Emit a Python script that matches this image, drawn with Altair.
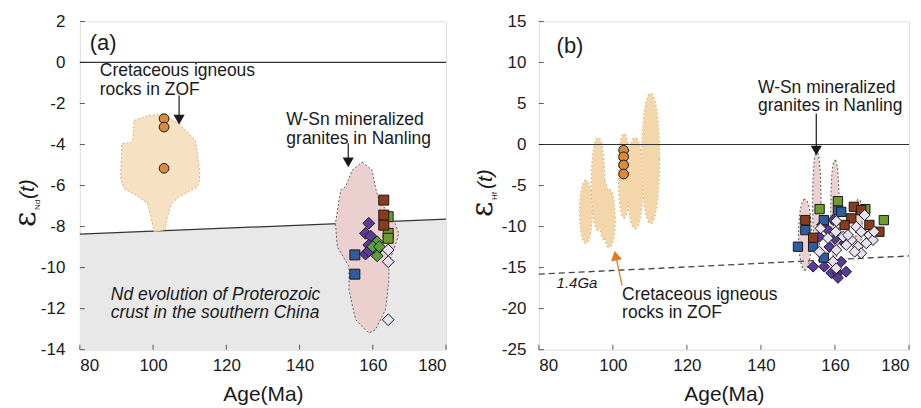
import altair as alt
import numpy as np
import pandas as pd

FONT = "Liberation Sans"
INK = "#1a1a1a"
W_A, W_B, H = 367, 371, 329
ANN = 17.5

# ---------------- axes
x_ticks = [80, 100, 120, 140, 160, 180]
ya_ticks = [2, 0, -2, -4, -6, -8, -10, -12, -14]
yb_ticks = [15, 10, 5, 0, -5, -10, -15, -20, -25]

# ---------------- panel (a) data
nd_line_x = [80, 180]
nd_line_y = [-8.37, -7.64]

zof_a_x = [98.9, 102.55, 107.1, 111.55, 112.6, 112.7, 112.1, 107.1, 105.1, 103.9, 103.3,
           100.3, 99.4, 98.5, 95.3, 92.1, 91.2, 91.2, 91.45, 94.4, 94.8]
zof_a_y = [-2.58, -2.53, -2.99, -3.80, -5.11, -5.75, -6.07, -6.55, -6.87, -7.52, -8.17,
           -8.25, -7.52, -6.87, -6.47, -6.14, -5.74, -5.25, -3.96, -3.88, -2.83]

nan_a_x = [157.1, 159.8, 160.7, 161.65, 165.7, 167.1, 166.6, 164.4, 164.4, 163.45, 160.7,
           158.9, 155.3, 153.5, 153.5, 150.3, 149.8, 151.2, 152.5, 154.4]
nan_a_y = [-4.85, -5.25, -6.07, -6.71, -7.68, -8.32, -8.66, -9.77, -10.6, -12.06, -13.03,
           -13.19, -12.54, -11.09, -9.95, -8.98, -7.84, -6.23, -6.07, -5.25]

circ_a_x = [103.0, 103.0, 103.0]
circ_a_y = [-2.74, -3.15, -5.16]
green_sq_a_x = [164.2, 164.2, 164.2]
green_sq_a_y = [-7.52, -8.33, -8.57]
brown_sq_a_x = [163.0, 163.0, 163.0]
brown_sq_a_y = [-6.71, -7.44, -7.93]
blue_sq_a_x = [155.1, 155.1]
blue_sq_a_y = [-9.38, -10.32]
purple_di_a_x = [158.9, 158.0, 159.4, 158.9, 158.0, 158.9]
purple_di_a_y = [-7.84, -8.33, -8.46, -8.90, -9.34, -9.20]
green_di_a_x = [161.2, 161.2, 161.2, 160.0, 161.8]
green_di_a_y = [-8.74, -9.14, -9.43, -8.98, -8.98]
lav_di_a_x = [164.2, 164.2, 164.2]
lav_di_a_y = [-9.14, -9.71, -12.54]

# ---------------- panel (b) data
ga_line_x = [80, 180]
ga_line_y = [-15.8, -13.58]

# tan blobs: centre x, centre y, half width, half height
tan_cx = [92.7, 96.0, 97.6, 99.0, 103.0, 106.0, 110.2]
tan_cy = [-8.2, -4.8, -8.0, -9.0, -3.8, -4.7, -1.7]
tan_rx = [1.6, 1.7, 1.3, 1.5, 1.4, 2.0, 2.3]
tan_ry = [3.8, 5.6, 3.5, 3.5, 5.1, 5.5, 7.9]
pink_cx = [151.9, 155.1, 160.0, 166.4]
pink_cy = [-11.0, -7.1, -8.0, -9.5]
pink_rx = [1.6, 1.0, 1.0, 0.8]
pink_ry = [4.25, 6.1, 6.0, 2.8]

circ_b_x = [102.9, 102.9, 102.9, 102.9]
circ_b_y = [-0.7, -1.5, -2.5, -3.6]
purple_di_b_x = [154.1, 157.1, 159.0, 160.8, 160.8, 155.8, 158.1, 162.5, 161.7, 163.0,
                 158.5, 160.0, 156.5, 159.5]
purple_di_b_y = [-14.88, -14.88, -15.65, -15.65, -16.25, -11.24, -10.42, -12.0, -14.27, -15.5,
                 -12.5, -11.5, -9.8, -9.2]
blue_sq_b_x = [160.8, 152.0, 150.0, 154.1, 157.0, 157.0, 161.7]
blue_sq_b_y = [-8.0, -10.43, -12.45, -12.45, -13.79, -9.21, -8.2]
green_sq_b_x = [160.8, 155.85, 168.2, 173.2]
green_sq_b_y = [-6.9, -7.87, -7.87, -9.21]
brown_sq_b_x = [152.0, 154.1, 165.1, 167.1, 164.4, 169.3, 172.0, 162.6]
brown_sq_b_y = [-9.21, -11.36, -7.59, -8.0, -9.0, -9.8, -10.63, -9.8]
lav_di_b_x = [160.35, 156.1, 158.1, 160.2, 155.8, 160.35, 159.5, 162.2, 160.35, 168.0, 165.75,
              167.1, 169.3, 170.25, 168.45, 166.2, 164.4, 163.05, 167.1, 165.3, 163.5, 170.6]
lav_di_b_y = [-9.33, -10.22, -11.4, -10.63, -13.06, -12.85, -14.27, -11.24, -15.08, -8.6, -10.02,
              -10.63, -11.03, -11.64, -12.04, -12.45, -11.64, -12.25, -13.25, -13.06, -11.03, -10.63]

# ---------------- annotations (two-line labels, position of the first line)
ann_a_x = [85.45, 136.4, 88.45]
ann_a_y = [-0.43, -2.83, -11.33]
ann_a_t = ["Cretaceous igneous\nrocks in ZOF", "W-Sn mineralized\ngranites in Nanling",
           "Nd evolution of Proterozoic\ncrust in the southern China"]
ann_a_italic = [False, False, True]
arrow_a_x = [107.1, 153.3]
arrow_a_y1 = [-1.61, -3.94]
arrow_a_y2 = [-2.92, -5.01]

ann_b_x = [139.2, 102.5]
ann_b_y = [6.9, -18.3]
ann_b_t = ["W-Sn mineralized\ngranites in Nanling", "Cretaceous igneous\nrocks in ZOF"]
arrow_b_x = [154.95]
arrow_b_y1 = [3.79]
arrow_b_y2 = [-1.07]
orange_arrow_x = [102.5, 100.6]
orange_arrow_y = [-17.2, -13.2]


def xenc():
    return alt.X("x:Q", scale=alt.Scale(domain=[80, 180], nice=False, zero=False),
                 axis=alt.Axis(values=x_ticks, ticks=False, domain=False, grid=False,
                               labelFont=FONT, labelFontSize=17, labelColor=INK, labelPadding=8,
                               labelExpr="'' + datum.value",
                               title="Age(Ma)", titleFont=FONT, titleFontSize=21,
                               titleFontWeight="normal", titleColor=INK, titlePadding=10))


def yenc(dom, ticks, pad):
    return alt.Y("y:Q", scale=alt.Scale(domain=dom, nice=False, zero=False),
                 axis=alt.Axis(values=ticks, ticks=False, domain=False, grid=False,
                               labelFont=FONT, labelFontSize=17, labelColor=INK, labelPadding=pad,
                               labelExpr="'' + datum.value", title=None))


def polys(xs_list, ys_list):
    rows = []
    for k, (xs, ys) in enumerate(zip(xs_list, ys_list)):
        xs = list(xs) + [xs[0]]
        ys = list(ys) + [ys[0]]
        for i, (a, b) in enumerate(zip(xs, ys)):
            rows.append({"id": k, "i": i, "x": a, "y": b})
    return pd.DataFrame(rows)


def ellipses(cx, cy, rx, ry):
    t = np.linspace(0, 2 * np.pi, 48, endpoint=False)
    xs = [c + r * np.cos(t) for c, r in zip(cx, rx)]
    ys = [c + r * np.sin(t) for c, r in zip(cy, ry)]
    return polys(xs, ys)


def points(xs, ys, shape, color, size, X, Y):
    return alt.Chart(pd.DataFrame({"x": xs, "y": ys})).mark_point(
        shape=shape, filled=True, fill=color, stroke=INK, strokeWidth=1, size=size, opacity=1
    ).encode(x=X, y=Y)


def ticks_layers(ticks_y, X, Y):
    tx = alt.Chart(pd.DataFrame({"x": x_ticks})).mark_tick(
        orient="vertical", size=5, thickness=1, color=INK).encode(x=X, y=alt.value(H - 2.5))
    ty = alt.Chart(pd.DataFrame({"y": ticks_y})).mark_tick(
        orient="horizontal", size=5, thickness=1, color=INK).encode(x=alt.value(2.5), y=Y)
    return [tx, ty]


def ytitle(sub, eps_x, eps_y, sub_x, sub_y, t_x, t_y):
    parts = []
    parts.append(alt.Chart(pd.DataFrame({"t": ["ε"]})).mark_text(
        angle=270, align="left", baseline="alphabetic", font="DejaVu Serif", fontSize=30, color=INK
    ).encode(x=alt.value(eps_x), y=alt.value(eps_y), text="t:N"))
    parts.append(alt.Chart(pd.DataFrame({"t": [sub]})).mark_text(
        angle=270, align="left", baseline="alphabetic", font=FONT, fontSize=8, color=INK
    ).encode(x=alt.value(sub_x), y=alt.value(sub_y), text="t:N"))
    parts.append(alt.Chart(pd.DataFrame({"t": ["(t)"]})).mark_text(
        angle=270, align="left", baseline="alphabetic", font=FONT, fontSize=21, fontStyle="italic",
        color=INK).encode(x=alt.value(t_x), y=alt.value(t_y), text="t:N"))
    return parts


def arrows(xs, y1, y2, X, Y, px_per_unit, color=INK):
    df = pd.DataFrame({"x": xs, "y": y1, "y2": y2})
    line = alt.Chart(df).mark_rule(color=color, strokeWidth=1.2).encode(
        x=X, y=Y, y2=alt.Y2("y2:Q"))
    head = pd.DataFrame({"x": xs, "y": [v + 3.3 / px_per_unit for v in y2]})
    tri = alt.Chart(head).mark_point(shape="triangle-down", filled=True, fill=color,
                                     stroke=color, size=60, opacity=1).encode(x=X, y=Y)
    return [line, tri]


def label_text(df, X, Y, italic=False):
    kw = dict(align="left", baseline="middle", font=FONT, fontSize=ANN, color=INK,
              lineBreak="\n", lineHeight=18.5)
    if italic:
        kw["fontStyle"] = "italic"
    return alt.Chart(df).mark_text(**kw).encode(x=X, y=Y, text="t:N")


# ---------------- panel (a)
def layers_a(X, Y):
    ppu = H / 16.0
    grey = alt.Chart(pd.DataFrame({"x": nd_line_x, "y": nd_line_y, "y0": [-14, -14]})).mark_area(
        color="#e8e8e8", opacity=1).encode(x=X, y=Y, y2=alt.Y2("y0:Q"))
    grey_line = alt.Chart(pd.DataFrame({"x": nd_line_x, "y": nd_line_y})).mark_line(
        color="#333333", strokeWidth=1.2).encode(x=X, y=Y)
    zero = alt.Chart(pd.DataFrame({"y": [0]})).mark_rule(color="#333333", strokeWidth=1.2).encode(y=Y)
    zof = alt.Chart(polys([zof_a_x], [zof_a_y])).mark_line(
        fill="#f7e1c3", stroke="#d9a86c", strokeWidth=0.9, strokeDash=[2, 2]).encode(
        x=X, y=Y, order="i:Q", detail="id:N")
    nan = alt.Chart(polys([nan_a_x], [nan_a_y])).mark_line(
        fill="#ebd0cf", stroke="#555555", strokeWidth=0.9, strokeDash=[2, 2]).encode(
        x=X, y=Y, order="i:Q", detail="id:N")
    df = pd.DataFrame({"x": ann_a_x, "y": ann_a_y, "t": ann_a_t, "it": ann_a_italic})
    txt = [label_text(df[~df.it], X, Y), label_text(df[df.it], X, Y, italic=True)]
    lab = alt.Chart(pd.DataFrame({"x": [82.7], "y": [0.94], "t": ["(a)"]})).mark_text(
        align="left", baseline="middle", font=FONT, fontSize=22, color=INK).encode(x=X, y=Y, text="t:N")
    pts = [
        points(circ_a_x, circ_a_y, "circle", "#d98a3a", 95, X, Y),
        points(green_sq_a_x, green_sq_a_y, "square", "#6f9a2e", 100, X, Y),
        points(brown_sq_a_x, brown_sq_a_y, "square", "#8a3b1c", 100, X, Y),
        points(blue_sq_a_x, blue_sq_a_y, "square", "#2f5c9e", 100, X, Y),
        points(purple_di_a_x, purple_di_a_y, "diamond", "#5b3a9c", 140, X, Y),
        points(green_di_a_x, green_di_a_y, "diamond", "#5a9f3c", 140, X, Y),
        points(lav_di_a_x, lav_di_a_y, "diamond", "#e6e2f2", 140, X, Y),
    ]
    layers = [grey, grey_line, zero, zof, nan] + pts + txt + [lab] + arrows(
        arrow_a_x, arrow_a_y1, arrow_a_y2, X, Y, ppu) + ticks_layers(ya_ticks, X, Y) + ytitle(
        "Nd", -45, 206, -40, 189, -46, 178)
    return alt.layer(*layers).properties(width=W_A, height=H)


# ---------------- panel (b)
def layers_b(X, Y):
    ppu = H / 40.0
    zero = alt.Chart(pd.DataFrame({"y": [0]})).mark_rule(color="#333333", strokeWidth=1.2).encode(y=Y)
    ga = alt.Chart(pd.DataFrame({"x": ga_line_x, "y": ga_line_y})).mark_line(
        color="#444444", strokeWidth=1.3, strokeDash=[6, 4]).encode(x=X, y=Y)
    tan = ellipses(tan_cx, tan_cy, tan_rx, tan_ry)
    tan_out = alt.Chart(tan).mark_line(stroke="#e3b477", strokeWidth=2, strokeDash=[2, 2]).encode(
        x=X, y=Y, order="i:Q", detail="id:N")
    tan_fill = alt.Chart(tan).mark_line(fill="#f3d6aa", strokeWidth=0, strokeOpacity=0).encode(
        x=X, y=Y, order="i:Q", detail="id:N")
    pink = ellipses(pink_cx, pink_cy, pink_rx, pink_ry)
    pink_out = alt.Chart(pink).mark_line(stroke="#555555", strokeWidth=2, strokeDash=[2, 2]).encode(
        x=X, y=Y, order="i:Q", detail="id:N")
    pink_fill = alt.Chart(pink).mark_line(fill="#ebd0cf", strokeWidth=0, strokeOpacity=0).encode(
        x=X, y=Y, order="i:Q", detail="id:N")
    txt = label_text(pd.DataFrame({"x": ann_b_x, "y": ann_b_y, "t": ann_b_t}), X, Y)
    ga_txt = alt.Chart(pd.DataFrame({"x": [84.8], "y": [-16.9], "t": ["1.4Ga"]})).mark_text(
        align="left", baseline="middle", font=FONT, fontSize=15, fontStyle="italic", color=INK).encode(
        x=X, y=Y, text="t:N")
    lab = alt.Chart(pd.DataFrame({"x": [84.8], "y": [12.05], "t": ["(b)"]})).mark_text(
        align="left", baseline="middle", font=FONT, fontSize=22, color=INK).encode(x=X, y=Y, text="t:N")
    oa = pd.DataFrame({"x": [orange_arrow_x[0]], "y": [orange_arrow_y[0]],
                       "x2": [orange_arrow_x[1]], "y2": [orange_arrow_y[1]]})
    oline = alt.Chart(oa).mark_rule(color="#e07b1f", strokeWidth=1.3).encode(
        x=X, y=Y, x2=alt.X2("x2:Q"), y2=alt.Y2("y2:Q"))
    ohead = alt.Chart(pd.DataFrame({"x": [orange_arrow_x[1] + 0.15], "y": [orange_arrow_y[1] - 3.3 / ppu]})).mark_point(
        shape="triangle-up", filled=True, fill="#e07b1f", stroke="#e07b1f", size=60, opacity=1,
        angle=348).encode(x=X, y=Y)
    pts = [
        points(circ_b_x, circ_b_y, "circle", "#d98a3a", 95, X, Y),
        points(purple_di_b_x, purple_di_b_y, "diamond", "#5b3a9c", 120, X, Y),
        points(blue_sq_b_x, blue_sq_b_y, "square", "#2f5c9e", 87, X, Y),
        points(green_sq_b_x, green_sq_b_y, "square", "#6f9a2e", 87, X, Y),
        points(brown_sq_b_x, brown_sq_b_y, "square", "#8a3b1c", 87, X, Y),
        points(lav_di_b_x, lav_di_b_y, "diamond", "#e6e2f2", 120, X, Y),
    ]
    layers = [tan_out, tan_fill, pink_out, pink_fill, zero, ga] + pts + [txt, ga_txt, lab, oline, ohead] + arrows(
        arrow_b_x, arrow_b_y1, arrow_b_y2, X, Y, ppu) + ticks_layers(yb_ticks, X, Y) + ytitle(
        "Hf", -47, 196, -42, 179, -47, 168)
    return alt.layer(*layers).properties(width=W_B, height=H)


X0 = xenc()
a = layers_a(X0, yenc([-14, 2], ya_ticks, 15))
b = layers_b(X0, yenc([-25, 15], yb_ticks, 13))

chart = alt.hconcat(a, b, spacing=93, bounds="flush").properties(
    padding={"left": 2, "top": 3, "right": 0, "bottom": 0}
).configure_view(stroke="#222222", strokeWidth=1.2).configure(background="white")

chart.save("out.html", embed_options={"renderer": "svg", "actions": False})
